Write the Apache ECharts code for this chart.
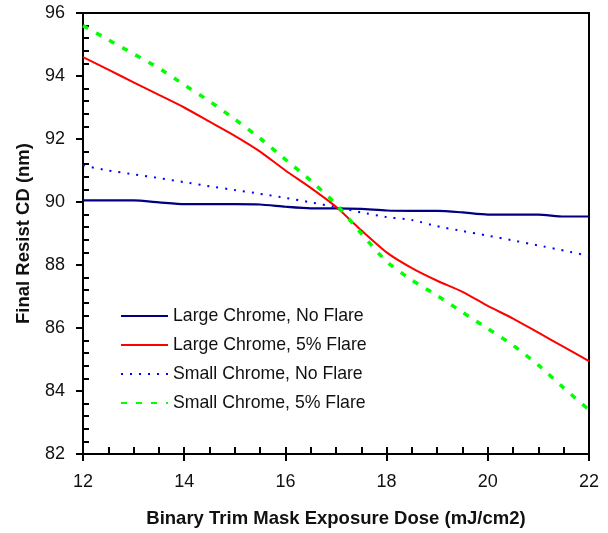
<!DOCTYPE html>
<html>
<head>
<meta charset="utf-8">
<script src="https://cdn.jsdelivr.net/npm/echarts@6/dist/echarts.min.js"></script>
<style>html,body{margin:0;padding:0;background:#fff}#c{width:608px;height:533px}</style>
</head>
<body>
<div id="c"></div>
<script>
var doses = [12,12.5,13,13.5,14,14.5,15,15.5,16,16.5,17,17.5,18,18.5,19,19.5,20,20.5,21,21.5,22];
var largeNoFlare = [90.05,90.05,90.05,89.99,89.93,89.93,89.93,89.92,89.85,89.80,89.80,89.78,89.73,89.72,89.72,89.67,89.60,89.60,89.60,89.54,89.54];
var large5Flare = [94.60,94.20,93.80,93.40,93.00,92.55,92.10,91.60,91.00,90.45,89.85,89.10,88.40,87.90,87.50,87.15,86.70,86.30,85.85,85.40,84.95];
var smallNoFlare = [91.16,91.00,90.88,90.76,90.63,90.50,90.38,90.26,90.13,89.99,89.84,89.67,89.52,89.43,89.23,89.08,88.93,88.78,88.62,88.46,88.29];
var small5Flare = [95.60,95.15,94.70,94.25,93.72,93.20,92.63,92.02,91.35,90.68,89.93,89.00,88.11,87.52,87.03,86.50,85.98,85.45,84.82,84.10,83.40];
var seriesNames = ['Large Chrome, No Flare','Large Chrome, 5% Flare','Small Chrome, No Flare','Small Chrome, 5% Flare'];
var xTitle = 'Binary Trim Mask Exposure Dose (mJ/cm2)';
var yTitle = 'Final Resist CD (nm)';

function pairs(vals){ return doses.map(function(d,i){ return [d, vals[i]]; }); }
var FONT = '"Liberation Sans", Arial, sans-serif';

var chart = echarts.init(document.getElementById('c'), null, {renderer:'canvas'});
chart.setOption({
  animation:false,
  backgroundColor:'#fff',
  grid:{left:83,right:19,top:13,bottom:79,show:true,borderColor:'#000',borderWidth:2,backgroundColor:'transparent'},
  legend:{
    orient:'vertical', left:115, top:302,
    itemWidth:47, itemHeight:14, itemGap:11,
    itemStyle:{opacity:0},
    textStyle:{fontFamily:FONT,fontSize:17.7,color:'#111',lineHeight:18},
    data:seriesNames
  },
  xAxis:[{
    type:'value', min:12, max:22, interval:2, position:'bottom',
    name:xTitle, nameLocation:'middle', nameGap:55,
    nameTextStyle:{fontFamily:FONT,fontSize:18.5,fontWeight:'bold',color:'#111'},
    axisLine:{show:true,lineStyle:{color:'#000',width:2}},
    axisTick:{show:true,inside:false,length:7,lineStyle:{color:'#000',width:2}},
    axisLabel:{fontFamily:FONT,fontSize:18,color:'#111',margin:19},
    splitLine:{show:false}
  },{
    type:'value', min:12, max:22, interval:2, position:'bottom',
    axisLine:{show:false},
    axisTick:{show:true,inside:true,length:7,lineStyle:{color:'#000',width:2}},
    minorTick:{show:true,splitNumber:4,length:7,lineStyle:{color:'#000',width:2}},
    axisLabel:{show:false},
    splitLine:{show:false}
  }],
  yAxis:[{
    type:'value', min:82, max:96, interval:2, position:'left',
    name:yTitle, nameLocation:'middle', nameGap:50,
    nameTextStyle:{fontFamily:FONT,fontSize:18.5,fontWeight:'bold',color:'#111'},
    axisLine:{show:true,lineStyle:{color:'#000',width:2}},
    axisTick:{show:true,inside:false,length:7,lineStyle:{color:'#000',width:2}},
    axisLabel:{fontFamily:FONT,fontSize:18,color:'#111',margin:18},
    splitLine:{show:false}
  },{
    type:'value', min:82, max:96, interval:2, position:'left',
    axisLine:{show:false},
    axisTick:{show:false,inside:true,length:6},
    minorTick:{show:true,splitNumber:5,length:6,lineStyle:{color:'#000',width:2}},
    axisLabel:{show:false},
    splitLine:{show:false}
  }],
  series:[
    {name:seriesNames[0],type:'line',xAxisIndex:0,yAxisIndex:0,data:pairs(largeNoFlare),symbol:'none',smooth:0.2,
     lineStyle:{color:'#000080',width:2.2},itemStyle:{color:'#000080'}},
    {name:seriesNames[1],type:'line',xAxisIndex:0,yAxisIndex:0,data:pairs(large5Flare),symbol:'none',smooth:0.2,
     lineStyle:{color:'#ff0000',width:2},itemStyle:{color:'#ff0000'}},
    {name:seriesNames[2],type:'line',xAxisIndex:0,yAxisIndex:0,data:pairs(smallNoFlare),symbol:'none',smooth:0.2,
     lineStyle:{color:'#0000ff',width:2,type:[2,7]},itemStyle:{color:'#0000ff'}},
    {name:seriesNames[3],type:'line',xAxisIndex:0,yAxisIndex:0,data:pairs(small5Flare),symbol:'none',smooth:0.2,
     lineStyle:{color:'#00ff00',width:3.5,type:[6,9]},itemStyle:{color:'#00ff00'}}
  ]
});
</script>
</body>
</html>
